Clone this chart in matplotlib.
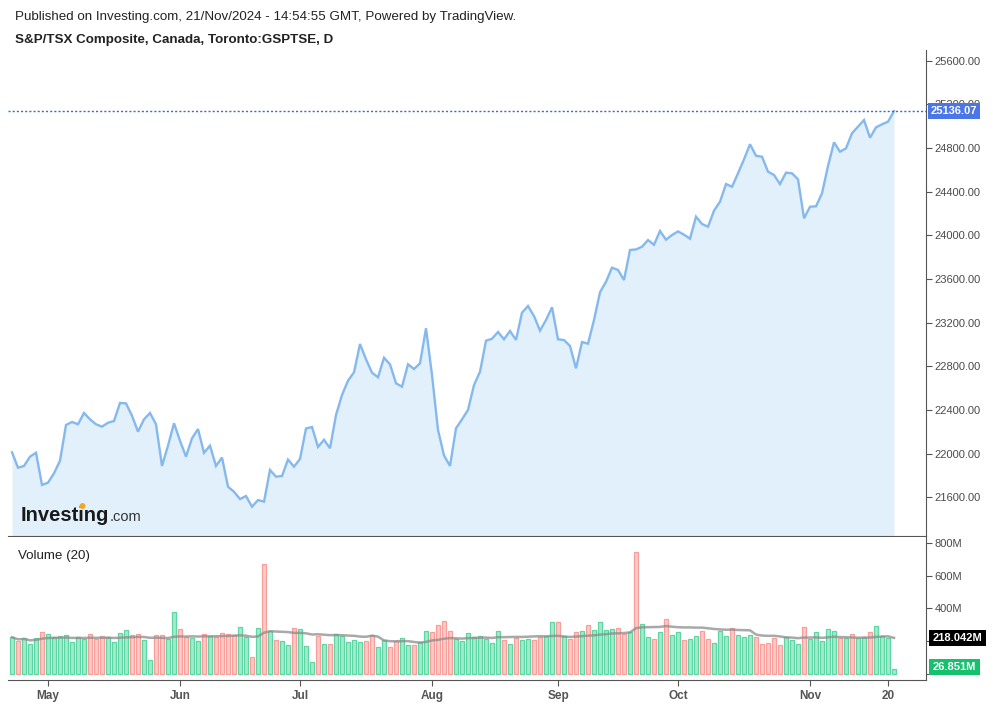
import matplotlib.pyplot as plt
import matplotlib.transforms as mtransforms
from matplotlib.patches import Ellipse
import pandas as pd
import numpy as np

plt.rcParams['font.family'] = ['Liberation Sans', 'DejaVu Sans']

# trading days on the TSX, 23 Apr - 21 Nov 2024
holidays = ['2024-05-20', '2024-07-01', '2024-08-05', '2024-09-02', '2024-10-14']
dates = pd.bdate_range('2024-04-23', '2024-11-21')
dates = dates[~dates.isin(pd.to_datetime(holidays))]

# daily close
close = [22012, 21871, 21887, 21972, 22008, 21713, 21734, 21820, 21935, 22262,
         22290, 22269, 22372, 22314, 22269, 22247, 22283, 22299, 22464, 22460,
         22347, 22201, 22314, 22372, 22269, 21887, 22073, 22278, 22118, 21972,
         22140, 22225, 22008, 22073, 21887, 21964, 21697, 21651, 21584, 21612,
         21514, 21575, 21560, 21850, 21789, 21795, 21946, 21880, 21951, 22230,
         22244, 22061, 22127, 22049, 22354, 22537, 22668, 22745, 23004, 22864,
         22741, 22699, 22878, 22818, 22644, 22613, 22818, 22775, 22827, 23148,
         22720, 22216, 21983, 21887, 22232, 22314, 22400, 22628, 22750, 23034,
         23052, 23114, 23047, 23123, 23041, 23291, 23352, 23260, 23126, 23224,
         23340, 23047, 23040, 22986, 22781, 23022, 23007, 23224, 23478, 23574,
         23703, 23682, 23590, 23865, 23870, 23895, 23956, 23913, 24039, 23959,
         24002, 24035, 24005, 23968, 24170, 24103, 24078, 24225, 24307, 24469,
         24444, 24567, 24695, 24833, 24728, 24719, 24582, 24552, 24469, 24573,
         24567, 24512, 24155, 24261, 24265, 24384, 24634, 24851, 24765, 24796,
         24934, 24994, 25055, 24893, 24988, 25016, 25040, 25136.07]

# volume in millions
volume = [223, 198, 216, 180, 216, 253, 241, 223, 229, 235,
          192, 223, 210, 241, 210, 229, 223, 192, 247, 265,
          235, 241, 204, 82, 235, 235, 210, 375, 272, 223,
          216, 198, 241, 229, 223, 247, 241, 235, 284, 223,
          100, 278, 669, 259, 206, 198, 174, 278, 272, 168,
          70, 229, 180, 180, 241, 229, 192, 204, 192, 198,
          235, 161, 204, 161, 198, 216, 174, 174, 192, 259,
          253, 296, 320, 259, 210, 198, 247, 223, 229, 210,
          186, 259, 204, 180, 216, 204, 210, 204, 223, 229,
          314, 314, 229, 210, 253, 259, 296, 265, 314, 265,
          272, 278, 241, 253, 742, 302, 223, 210, 253, 333,
          235, 253, 204, 210, 229, 259, 210, 186, 259, 229,
          278, 235, 223, 235, 223, 180, 186, 216, 174, 223,
          204, 180, 284, 210, 253, 198, 272, 259, 216, 216,
          241, 216, 223, 253, 290, 229, 216, 26.851]

# G = close above open, R = close below open
candle = list("GRGGGRGGGG" "GGGRRRGGGG" "RRGGRRGGRR" "GGRGRRRRGG"
              "RGRGRGGRGG" "GRGRGGGGGR" "RGGRRGGRGG" "RRRRGGGGGG"
              "GGRGRGGRRG" "GRGRRGRGGG" "GRRGRGGRGR" "GGRGGRRGGG"
              "RGGGRRRRRG" "GGRGGGGGRG" "RGGRGGGG")

ma_label = 218.042
month_ticks = ['May', 'Jun', 'Jul', 'Aug', 'Sep', 'Oct', 'Nov']

x = np.arange(len(close))
vol_ma = pd.Series(volume).rolling(20, min_periods=1).mean()

W, H = 993, 704
fig = plt.figure(figsize=(W / 100, H / 100), dpi=100)

def frac(l, t, r, b):
    return [l / W, 1 - b / H, (r - l) / W, (b - t) / H]

axp = fig.add_axes(frac(8, 50, 926, 536))
axv = fig.add_axes(frac(8, 537, 926, 680))

axis_col = '#555555'
lab_col = '#4a4a4a'

# price panel
axp.fill_between(x, close, 21000, color='#e1f0fa', lw=0)
axp.plot(x, close, color='#85b9ee', lw=1.7, solid_joinstyle='miter')
axp.axhline(close[-1], color='#3567e6', lw=1.0, ls=(0, (1.5, 1.5)))
axp.set_xlim(-0.667, 152.33)
axp.set_ylim(21245.6, 25696.4)
axp.set_yticks(np.arange(21600, 25601, 400))
axp.yaxis.set_major_formatter(lambda v, p: f'{v:.2f}')
axp.yaxis.tick_right()
axp.set_xticks([])
for s in ['top', 'left']:
    axp.spines[s].set_visible(False)
for s in ['right', 'bottom']:
    axp.spines[s].set_color(axis_col)
axp.tick_params(axis='y', length=4, color=axis_col, labelcolor=lab_col, labelsize=8, pad=2)

tr = mtransforms.blended_transform_factory(axp.transAxes, axp.transData)
axp.text(1.0054, close[-1], f'{close[-1]:.2f}', transform=tr, ha='left', va='center',
         color='white', fontweight='bold', fontsize=8, clip_on=False,
         bbox=dict(boxstyle='square,pad=0.25', fc='#4a76e8', ec='none'))

# volume panel
up_fc, up_ec = '#a6eacd', '#5cd6a2'
dn_fc, dn_ec = '#ffc9c7', '#f7a09b'
fcs = [up_fc if c == 'G' else dn_fc for c in candle]
ecs = [up_ec if c == 'G' else dn_ec for c in candle]
axv.bar(x, volume, width=0.82, color=fcs, edgecolor=ecs, linewidth=0.9)
axv.plot(x, vol_ma, color='#8c8c8c', lw=1.8, alpha=0.75)
axv.set_xlim(-0.667, 152.33)
axv.set_ylim(-38.5, 836)
axv.set_yticks([0, 200, 400, 600, 800])
axv.set_yticklabels(['', '', '400M', '600M', '800M'])
axv.yaxis.tick_right()
for s in ['top', 'left']:
    axv.spines[s].set_visible(False)
for s in ['right', 'bottom']:
    axv.spines[s].set_color(axis_col)
axv.tick_params(axis='y', length=4, color=axis_col, labelcolor=lab_col, labelsize=8, pad=2)

tick_pos = [int(np.argmax(dates.month == m)) for m in range(5, 12)]
tick_pos.append(int(np.argmax(dates == pd.Timestamp('2024-11-20'))))
axv.set_xticks(tick_pos)
axv.set_xticklabels(month_ticks + ['20'], fontweight='bold')
axv.tick_params(axis='x', length=4, color=axis_col, labelcolor=axis_col, labelsize=8.5, pad=3)

trv = mtransforms.blended_transform_factory(axv.transAxes, axv.transData)
axv.text(1.0074, ma_label, f'{ma_label:.3f}M', transform=trv, ha='left', va='center',
         color='white', fontweight='bold', fontsize=8, clip_on=False,
         bbox=dict(boxstyle='square,pad=0.3', fc='black', ec='none'))
axv.text(1.0074, volume[-1] + 15, f'{volume[-1]:.3f}M', transform=trv, ha='left', va='center',
         color='white', fontweight='bold', fontsize=8, clip_on=False,
         bbox=dict(boxstyle='square,pad=0.3', fc='#14c26e', ec='none'))
axv.text(0.011, 0.87, 'Volume (20)', transform=axv.transAxes, fontsize=9.6, color='#222222',
         va='center', ha='left')

# header
fig.text(15 / W, 1 - 17 / H, 'Published on Investing.com, 21/Nov/2024 - 14:54:55 GMT, Powered by TradingView.',
         fontsize=9.6, color='#222222', va='center')
fig.text(15 / W, 1 - 40 / H, 'S&P/TSX Composite, Canada, Toronto:GSPTSE, D',
         fontsize=9.6, fontweight='bold', color='#222222', va='center')

# watermark logo
fig.text(21 / W, 1 - 521 / H, 'Investing', fontsize=14.5, fontweight='bold', color='#1a1a1a',
         va='baseline')
fig.text(110 / W, 1 - 521 / H, '.com', fontsize=10.5, color='#333333', va='baseline')
fig.add_artist(Ellipse((82.5 / W, 1 - 506 / H), 4.5 / W, 4.5 / H, transform=fig.transFigure,
                       color='#f5a623', zorder=5))

fig.savefig('out.png', dpi=100)
